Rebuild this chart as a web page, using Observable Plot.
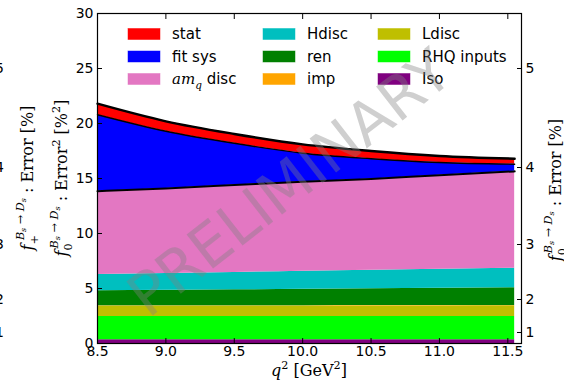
<!DOCTYPE html>
<html><head><meta charset="utf-8">
<script src="https://cdn.jsdelivr.net/npm/d3@7"></script>
<script src="https://cdn.jsdelivr.net/npm/@observablehq/plot@0.6"></script>
<style>body{margin:0;background:#fff} svg{display:block}</style>
</head><body><div id="chart"></div>
<script>
// q^2 sample points [GeV^2]
const q2 = [8.5, 9.0, 9.5, 10.0, 10.5, 11.0, 11.55];
// error^2 contributions [%^2], stacked bottom to top
const iso    = [0.35, 0.35, 0.35, 0.35, 0.35, 0.35, 0.35];
const rhq    = [2.10, 2.10, 2.10, 2.10, 2.10, 2.10, 2.10];
const ldisc  = [0.95, 0.95, 0.96, 0.96, 0.97, 0.97, 0.98];
const imp    = [0.03, 0.03, 0.03, 0.03, 0.03, 0.03, 0.03];
const ren    = [1.37, 1.41, 1.44, 1.49, 1.52, 1.57, 1.60];
const hdisc  = [1.47, 1.52, 1.58, 1.63, 1.69, 1.73, 1.79];
const amq    = [7.58, 7.74, 7.94, 8.14, 8.29, 8.55, 8.80];
const fitsys = [6.95, 5.20, 3.80, 2.60, 1.85, 1.15, 0.65];
const stat   = [1.00, 0.90, 0.85, 0.80, 0.70, 0.60, 0.50];
const names  = ["Iso", "RHQ inputs", "Ldisc", "imp", "ren", "Hdisc", "amq disc", "fit sys", "stat"];
const colors = ["#800080", "#00ff00", "#bfbf00", "#ffa500", "#008000", "#00bfbf", "#e377c2", "#0000ff", "#ff0000"];
const legendOrder = ["stat", "fit sys", "amq disc", "Hdisc", "ren", "imp", "Ldisc", "RHQ inputs", "Iso"];
const xTicks = [8.5, 9.0, 9.5, 10.0, 10.5, 11.0, 11.5];
const yTicks = [0, 5, 10, 15, 20, 25, 30];
const pctTicks = [1, 2, 3, 4, 5];

const series = [iso, rhq, ldisc, imp, ren, hdisc, amq, fitsys, stat];
const rows = series.flatMap((vals, k) => vals.map((v, j) => ({q2: q2[j], err2: v, source: names[k]})));
const cum = q2.map((_, j) => { let s = 0; return series.map(v => (s += v[j])); });

const W = 564, H = 387, mL = 97, mR = 43, mT = 13, mB = 44;
const plot = Plot.plot({
  width: W, height: H, marginLeft: mL, marginRight: mR, marginTop: mT, marginBottom: mB,
  style: {fontFamily: "DejaVu Sans, sans-serif", fontSize: "14px", color: "black", background: "white", overflow: "visible"},
  x: {domain: [8.5, 11.6]},
  y: {domain: [0, 30]},
  color: {domain: names, range: colors},
  marks: [
    Plot.areaY(rows, {x: "q2", y: "err2", z: "source", fill: "source", order: names, curve: "monotone-x"}),
    Plot.lineY(q2, {x: d => d, y: (d, j) => cum[j][6], stroke: "black", strokeWidth: 2, curve: "monotone-x"}),
    Plot.lineY(q2, {x: d => d, y: (d, j) => cum[j][7], stroke: "black", strokeWidth: 1.4, curve: "monotone-x"}),
    Plot.lineY(q2, {x: d => d, y: (d, j) => cum[j][8], stroke: "black", strokeWidth: 2.4, curve: "monotone-x"}),
    Plot.frame({stroke: "black", strokeWidth: 1.2}),
    Plot.axisY({ticks: yTicks, tickSize: -5, tickPadding: 9, label: null}),
    Plot.axisY({anchor: "right", ticks: pctTicks.map(p => p * p), tickFormat: d => String(Math.round(Math.sqrt(d))), tickSize: -5, tickPadding: 9, label: null}),
    Plot.axisX({ticks: xTicks, tickFormat: d3.format(".1f"), tickSize: -5, tickPadding: 8, label: null}),
    Plot.axisX({anchor: "top", ticks: xTicks, tickFormat: () => "", tickSize: -5, label: null})
  ]
});
document.getElementById("chart").appendChild(plot);

const svg = d3.select(plot);
const ys = plot.scale("y");

function mathText(parent, x, y, rotate, anchor, parts, base, family) {
  const t = parent.append("text")
    .attr("transform", `translate(${x},${y}) rotate(${rotate})`)
    .attr("text-anchor", anchor)
    .attr("font-family", family || "DejaVu Serif, serif")
    .attr("font-size", base).attr("fill", "black")
    .attr("style", "white-space:pre");
  let cur = 0;
  for (const p of parts) {
    const off = (p.o || 0) * base;
    t.append("tspan").text(p.t)
      .attr("font-size", base * (p.s || 1))
      .attr("font-style", p.i ? "italic" : "normal")
      .attr("font-family", p.f || null)
      .attr("dy", off - cur)
      .attr("dx", p.dx || 0);
    cur = off;
  }
  return t;
}
function fLabel(sub, tail) {
  return [
    {t: "f", i: 1},
    {t: sub, s: 0.7, o: 0.3},
    {t: "B", i: 1, s: 0.7, o: -0.55, dx: -5},
    {t: "s", i: 1, s: 0.5, o: -0.42},
    {t: " → ", s: 0.7, o: -0.55},
    {t: "D", i: 1, s: 0.7, o: -0.55},
    {t: "s", i: 1, s: 0.5, o: -0.42},
    ...tail
  ];
}
const midY = (mT + H - mB) / 2;
// left label (f0, squared)
mathText(svg, 67, midY, -90, "middle", fLabel("0", [
  {t: " : Error", o: 0}, {t: "2", s: 0.7, o: -0.45}, {t: " [%", o: 0}, {t: "2", s: 0.7, o: -0.45}, {t: "]", o: 0}
]), 16);
// cut-off neighbouring label (f+)
mathText(svg, 33, midY, -90, "middle", fLabel("+", [
  {t: " : Error [%]", o: 0}
]), 16);
// right label
mathText(svg, 561, midY + 12, -90, "middle", fLabel("0", [
  {t: " : Error [%]", o: 0}
]), 16);
// cut-off neighbouring tick labels
svg.append("g").selectAll("text").data(pctTicks).join("text")
  .attr("x", 4).attr("y", d => ys.apply(d * d)).attr("dy", "0.35em")
  .attr("text-anchor", "end").attr("font-family", "DejaVu Sans, sans-serif").attr("font-size", 14)
  .attr("fill", "black").text(d => d);
// x label
mathText(svg, (mL + W - mR) / 2, 376, 0, "middle", [
  {t: "q", i: 1}, {t: "2", s: 0.7, o: -0.45}, {t: " [GeV", o: 0}, {t: "2", s: 0.7, o: -0.45}, {t: "]", o: 0}
], 16);

// legend
const colX = [128, 263, 378];
const rowY = [34, 56.5, 79];
const lg = svg.append("g").attr("text-anchor", "start");
legendOrder.forEach((name, i) => {
  const c = Math.floor(i / 3), r = i % 3;
  const col = colors[names.indexOf(name)];
  lg.append("rect").attr("x", colX[c]).attr("y", rowY[r] - 5.5).attr("width", 32).attr("height", 11)
    .attr("fill", col).attr("stroke", col).attr("stroke-opacity", 0.6).attr("stroke-width", 0.8);
  const tx = colX[c] + 44;
  if (name === "amq disc") {
    mathText(lg, tx, rowY[r] + 5, 0, "start", [
      {t: "am", i: 1, f: "DejaVu Serif, serif"}, {t: "q", i: 1, s: 0.7, o: 0.3, f: "DejaVu Serif, serif"}, {t: " disc", o: 0}
    ], 15, "DejaVu Sans, sans-serif");
  } else {
    lg.append("text").attr("x", tx).attr("y", rowY[r] + 5).attr("text-anchor", "start")
      .attr("font-family", "DejaVu Sans, sans-serif")
      .attr("font-size", 15).attr("fill", "black").text(name);
  }
});

// watermark
svg.append("text").attr("transform", "translate(302,199) rotate(-38)")
  .attr("text-anchor", "middle").attr("font-family", "DejaVu Sans, sans-serif").attr("font-size", 59)
  .attr("fill", "#808080").attr("fill-opacity", 0.38).text("PRELIMINARY");
</script>
</body></html>
